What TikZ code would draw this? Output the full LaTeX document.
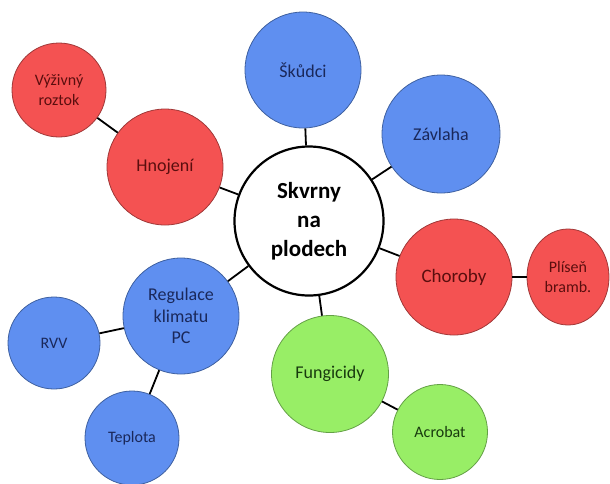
\documentclass[tikz,border=0pt]{standalone}
\usepackage{fontspec}
\setmainfont{Carlito}
\usepackage{tikz}
\usetikzlibrary{shapes.geometric}

\definecolor{bfill}{RGB}{95,143,240}
\definecolor{bline}{RGB}{62,96,160}
\definecolor{btext}{RGB}{26,40,90}
\definecolor{rfill}{RGB}{244,82,82}
\definecolor{rline}{RGB}{160,56,56}
\definecolor{rtext}{RGB}{90,14,14}
\definecolor{gfill}{RGB}{152,238,102}
\definecolor{gline}{RGB}{100,160,70}
\definecolor{gtext}{RGB}{24,58,14}

\tikzset{
  bubble/.style={circle,draw,line width=0.8pt,inner sep=0pt,align=center},
  big/.style={bubble,minimum size=116,font=\fontsize{18}{21.5}\selectfont},
  small/.style={bubble,minimum size=94,font=\fontsize{16}{20.5}\selectfont},
  blueb/.style={fill=bfill,draw=bline,text=btext},
  redb/.style={fill=rfill,draw=rline,text=rtext},
  greenb/.style={fill=gfill,draw=gline,text=gtext},
  link/.style={line width=1.8pt,black}
}

\begin{document}
\begin{tikzpicture}[x=1pt,y=-1pt]
\useasboundingbox (0,0) rectangle (610,483);

\node[bubble,minimum size=149,line width=2.2pt,fill=white,font=\fontsize{23}{29}\selectfont\bfseries] (skvrny) at (309,221) {Skvrny\\na\\plodech};

\node[big,blueb] (skudci) at (303,70) {Škůdci};
\node[big,blueb,minimum size=118] (zavlaha) at (441,134) {Závlaha};
\node[big,redb] (hnojeni) at (165,167) {Hnojení};
\node[small,redb] (roztok) at (59,90) {Výživný\\roztok};
\node[big,redb,font=\fontsize{19}{22}\selectfont] (choroby) at (454,277) {Choroby};
\node[small,redb,ellipse,minimum width=82,minimum height=96] (plisen) at (568,277) {Plíseň\\bramb.};
\node[big,blueb] (regulace) at (181,316) {Regulace\\klimatu\\PC};
\node[small,blueb,minimum size=92] (rvv) at (54,343) {RVV};
\node[small,blueb] (teplota) at (132,438) {Teplota};
\node[big,greenb,minimum size=117] (fungicidy) at (330,374) {Fungicidy};
\node[small,greenb,minimum size=95] (acrobat) at (440,432) {Acrobat};

\draw[link] (skvrny) -- (skudci);
\draw[link] (skvrny) -- (zavlaha);
\draw[link] (skvrny) -- (hnojeni);
\draw[link] (hnojeni) -- (roztok);
\draw[link] (skvrny) -- (choroby);
\draw[link] (choroby) -- (plisen);
\draw[link] (skvrny) -- (regulace);
\draw[link] (regulace) -- (rvv);
\draw[link] (regulace) -- (teplota);
\draw[link] (skvrny) -- (fungicidy);
\draw[link] (fungicidy) -- (acrobat);
\end{tikzpicture}
\end{document}
